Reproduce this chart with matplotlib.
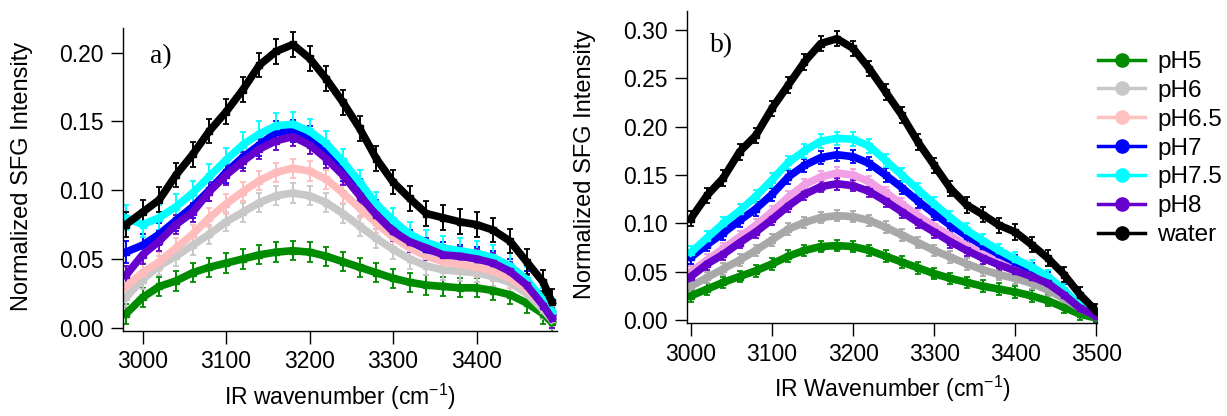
import matplotlib
matplotlib.use("Agg")
import matplotlib.pyplot as plt
from matplotlib.lines import Line2D

# ---- data (20 cm-1 grid) ----
series_names = ["pH5", "pH6", "pH6.5", "pH7", "pH7.5", "pH8", "water"]

wn_a = [2980, 3000, 3020, 3040, 3060, 3080, 3100, 3120, 3140, 3160, 3180, 3200, 3220, 3240,
        3260, 3280, 3300, 3320, 3340, 3360, 3380, 3400, 3420, 3440, 3460, 3480, 3490]

ph5_a = [0.010, 0.022, 0.030, 0.034, 0.040, 0.044, 0.047, 0.050, 0.053, 0.055, 0.056, 0.055, 0.052, 0.048,
         0.044, 0.040, 0.036, 0.033, 0.031, 0.030, 0.029, 0.029, 0.027, 0.024, 0.018, 0.010, 0.004]
ph6_a = [0.022, 0.035, 0.045, 0.052, 0.060, 0.068, 0.077, 0.084, 0.091, 0.096, 0.098, 0.096, 0.091, 0.083,
         0.074, 0.065, 0.057, 0.050, 0.045, 0.042, 0.041, 0.040, 0.037, 0.033, 0.025, 0.013, 0.006]
ph65_a = [0.030, 0.040, 0.048, 0.058, 0.068, 0.080, 0.090, 0.099, 0.107, 0.113, 0.116, 0.114, 0.108, 0.098,
          0.087, 0.076, 0.066, 0.058, 0.052, 0.048, 0.046, 0.044, 0.041, 0.036, 0.028, 0.016, 0.008]
ph7_a = [0.055, 0.060, 0.068, 0.078, 0.088, 0.100, 0.113, 0.124, 0.133, 0.142, 0.143, 0.139, 0.127, 0.115,
         0.100, 0.085, 0.072, 0.063, 0.057, 0.054, 0.052, 0.051, 0.048, 0.042, 0.033, 0.019, 0.010]
ph75_a = [0.080, 0.075, 0.080, 0.088, 0.098, 0.110, 0.122, 0.133, 0.141, 0.147, 0.148, 0.143, 0.134, 0.121,
          0.106, 0.090, 0.078, 0.068, 0.062, 0.058, 0.056, 0.054, 0.051, 0.045, 0.035, 0.020, 0.012]
ph8_a = [0.038, 0.053, 0.063, 0.075, 0.084, 0.099, 0.111, 0.121, 0.130, 0.136, 0.139, 0.133, 0.123, 0.111,
         0.096, 0.082, 0.070, 0.0625, 0.058, 0.053, 0.052, 0.050, 0.047, 0.041, 0.031, 0.016, 0.007]
water_a = [0.075, 0.084, 0.093, 0.111, 0.126, 0.143, 0.157, 0.173, 0.191, 0.201, 0.206, 0.196, 0.181, 0.164,
           0.145, 0.123, 0.106, 0.094, 0.083, 0.080, 0.077, 0.075, 0.071, 0.063, 0.048, 0.033, 0.019]
err_a = [0.007, 0.007, 0.007, 0.008, 0.009, 0.007, 0.009]

wn_b = [3000, 3020, 3040, 3060, 3080, 3100, 3120, 3140, 3160, 3180, 3200, 3220, 3240,
        3260, 3280, 3300, 3320, 3340, 3360, 3380, 3400, 3420, 3440, 3460, 3480, 3500]

ph5_b = [0.025, 0.032, 0.039, 0.045, 0.051, 0.058, 0.066, 0.072, 0.076, 0.077, 0.076, 0.072, 0.066,
         0.060, 0.054, 0.048, 0.043, 0.039, 0.035, 0.032, 0.029, 0.025, 0.020, 0.013, 0.006, 0.002]
ph6_b = [0.035, 0.044, 0.053, 0.062, 0.072, 0.083, 0.094, 0.101, 0.106, 0.108, 0.107, 0.103, 0.096,
         0.088, 0.080, 0.072, 0.065, 0.058, 0.052, 0.047, 0.043, 0.038, 0.031, 0.022, 0.012, 0.004]
ph65_b = [0.050, 0.062, 0.074, 0.086, 0.098, 0.112, 0.127, 0.140, 0.148, 0.152, 0.150, 0.143, 0.132,
          0.120, 0.108, 0.097, 0.087, 0.077, 0.068, 0.060, 0.054, 0.047, 0.039, 0.027, 0.014, 0.005]
ph7_b = [0.065, 0.078, 0.090, 0.103, 0.115, 0.130, 0.148, 0.160, 0.168, 0.171, 0.169, 0.162, 0.150,
         0.137, 0.123, 0.110, 0.098, 0.087, 0.077, 0.068, 0.060, 0.052, 0.043, 0.030, 0.015, 0.006]
ph75_b = [0.070, 0.085, 0.100, 0.113, 0.128, 0.145, 0.163, 0.175, 0.185, 0.188, 0.187, 0.180, 0.165,
          0.150, 0.135, 0.120, 0.106, 0.093, 0.082, 0.072, 0.063, 0.055, 0.045, 0.031, 0.015, 0.006]
ph8_b = [0.045, 0.058, 0.068, 0.080, 0.091, 0.104, 0.118, 0.130, 0.138, 0.141, 0.139, 0.133, 0.123,
         0.112, 0.101, 0.091, 0.081, 0.072, 0.064, 0.057, 0.051, 0.045, 0.038, 0.026, 0.012, 0.004]
water_b = [0.105, 0.129, 0.147, 0.174, 0.191, 0.219, 0.243, 0.267, 0.286, 0.291, 0.281, 0.260, 0.236,
           0.212, 0.184, 0.160, 0.136, 0.119, 0.109, 0.098, 0.091, 0.078, 0.064, 0.047, 0.026, 0.009]
err_b = [0.006, 0.006, 0.006, 0.007, 0.007, 0.006, 0.008]

colors_a = ["#008c00", "#c8c8c8", "#ffbcbc", "#0000ff", "#00ffff", "#6600cc", "#000000"]
colors_b = ["#008c00", "#a8a8a8", "#f2a0e6", "#0000ff", "#00ffff", "#6600cc", "#000000"]
legend_colors = ["#008c00", "#c8c8c8", "#ffc0c0", "#0000ff", "#00ffff", "#6600cc", "#000000"]

plt.rcParams["font.family"] = ["Liberation Sans", "DejaVu Sans"]

fig = plt.figure(figsize=(12.27, 4.16), dpi=100)
ax_a = fig.add_axes([0.1005, 0.2043, 0.3532, 0.7284])
ax_b = fig.add_axes([0.5601, 0.2228, 0.3342, 0.7515])


def draw_panel(ax, wn, curves, errs, colors):
    for ys, e, c in zip(curves, errs, colors):
        ax.errorbar(wn, ys, yerr=e, color=c, lw=5.5, marker="s", ms=4,
                    elinewidth=1.4, capsize=2, capthick=1.3)
    for side in ["top", "right"]:
        ax.spines[side].set_visible(False)
    for side in ["left", "bottom"]:
        ax.spines[side].set_linewidth(1.0)
    ax.tick_params(direction="out", length=9, width=1.0, labelsize=16.5, pad=5)
    ax.minorticks_off()


draw_panel(ax_a, wn_a, [ph5_a, ph6_a, ph65_a, ph7_a, ph75_a, ph8_a, water_a], err_a, colors_a)
ax_a.set_xlim(2977, 3496)
ax_a.set_ylim(-0.0024, 0.218)
ax_a.set_xticks([3000, 3100, 3200, 3300, 3400])
ax_a.set_yticks([0.00, 0.05, 0.10, 0.15, 0.20])
ax_a.set_yticklabels(["0.00", "0.05", "0.10", "0.15", "0.20"])
ax_a.set_xlabel("IR wavenumber (cm$^{\\mathregular{-1}}$)", fontsize=16.5, labelpad=6)
ax_a.set_ylabel("Normalized SFG Intensity", fontsize=17)
ax_a.yaxis.set_label_coords(-0.208, 0.51)
ax_a.text(0.062, 0.904, "a)", transform=ax_a.transAxes, fontsize=20,
          family="Liberation Serif", va="center", ha="left")

draw_panel(ax_b, wn_b, [ph5_b, ph6_b, ph65_b, ph7_b, ph75_b, ph8_b, water_b], err_b, colors_b)
ax_b.set_xlim(2995.5, 3501)
ax_b.set_ylim(-0.0034, 0.32)
ax_b.set_xticks([3000, 3100, 3200, 3300, 3400, 3500])
ax_b.set_yticks([0.00, 0.05, 0.10, 0.15, 0.20, 0.25, 0.30])
ax_b.set_yticklabels(["0.00", "0.05", "0.10", "0.15", "0.20", "0.25", "0.30"])
ax_b.set_xlabel("IR Wavenumber (cm$^{\\mathregular{-1}}$)", fontsize=16.5, labelpad=6)
ax_b.set_ylabel("Normalized SFG Intensity", fontsize=17)
ax_b.yaxis.set_label_coords(-0.223, 0.51)
ax_b.text(0.055, 0.887, "b)", transform=ax_b.transAxes, fontsize=20,
          family="Liberation Serif", va="center", ha="left")

handles = [Line2D([0], [0], color=c, lw=2.5, marker="o", ms=9.5) for c in legend_colors]
fig.legend(handles, series_names, loc="upper left", bbox_to_anchor=(0.895, 0.877),
           frameon=False, fontsize=17.5, handlelength=1.93, handletextpad=0.5,
           labelspacing=0.28, borderpad=0, borderaxespad=0)

fig.savefig("out.png", dpi=100)
